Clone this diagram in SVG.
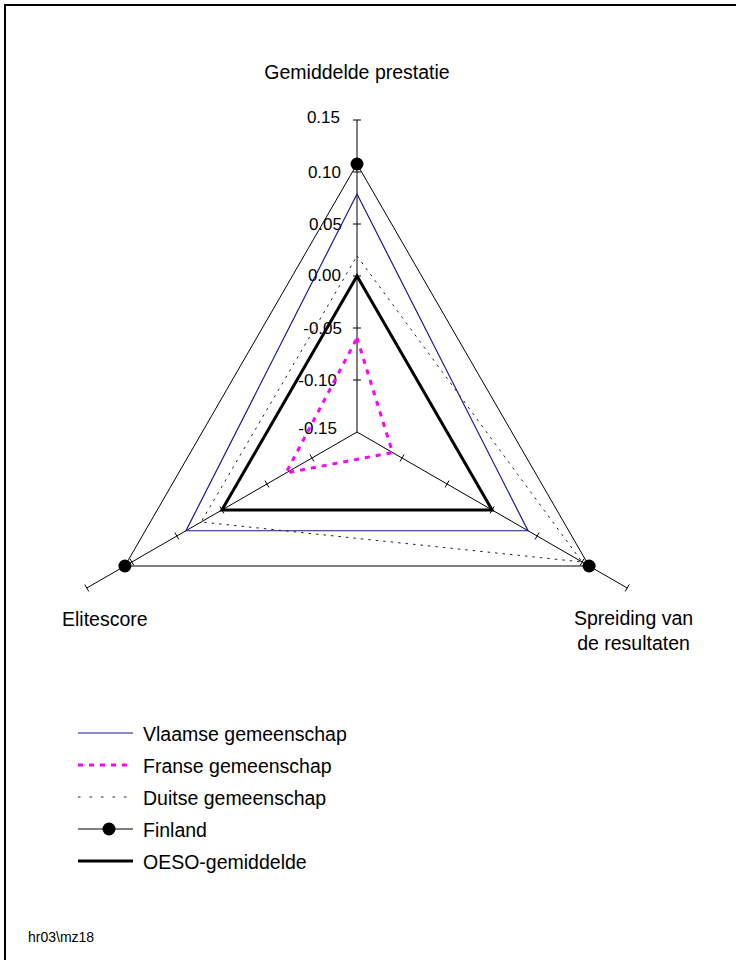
<svg xmlns="http://www.w3.org/2000/svg" width="736" height="960" viewBox="0 0 736 960">
<style>
text{font-family:"Liberation Sans",Arial,sans-serif;fill:#000}
.lbl{font-size:19.5px}
.tk{font-size:17px;text-anchor:end}
.ax{stroke:#000;stroke-width:1;fill:none}
.vl{stroke:#1a1a8c;stroke-width:1.2;fill:none}
.fr{stroke:#ff00ff;stroke-width:3;stroke-dasharray:5 6;fill:none}
.du{stroke:#222;stroke-width:1;stroke-dasharray:2.5 5;fill:none}
.dul{stroke:#222;stroke-width:1;stroke-dasharray:2.5 9;fill:none}
.fi{stroke:#000;stroke-width:1;fill:none}
.oe{stroke:#000;stroke-width:3;fill:none;stroke-linejoin:miter}
</style>
<rect width="736" height="960" fill="#fff"/>
<path d="M5,960 V5 H736" fill="none" stroke="#000" stroke-width="2"/>
<g id="axes">
<path class="ax" d="M357,432 V120 M357,432 L86.81,588 M357,432 L627.19,588"/>
<path class="ax" d="M353,380 H361 M353,328 H361 M353,276 H361 M353,224 H361 M353,172 H361 M353,120 H361"/>
<path class="ax" d="M309.97,454.54 L313.97,461.46 M264.94,480.54 L268.94,487.46 M219.9,506.54 L223.9,513.46 M174.87,532.54 L178.87,539.46 M129.84,558.54 L133.84,565.46 M84.81,584.54 L88.81,591.46"/>
<path class="ax" d="M404.03,454.54 L400.03,461.46 M449.06,480.54 L445.06,487.46 M494.1,506.54 L490.1,513.46 M539.13,532.54 L535.13,539.46 M584.16,558.54 L580.16,565.46 M629.19,584.54 L625.19,591.46"/>
</g>
<g id="tick-labels">
<text class="tk" x="340" y="122.5">0.15</text>
<text class="tk" x="341" y="177.5">0.10</text>
<text class="tk" x="342" y="230">0.05</text>
<text class="tk" x="341" y="281">0.00</text>
<text class="tk" x="342" y="333.5">-0.05</text>
<text class="tk" x="337" y="385.5">-0.10</text>
<text class="tk" x="337" y="433.5">-0.15</text>
</g>
<g id="axis-labels">
<text class="lbl" x="357" y="79" text-anchor="middle">Gemiddelde prestatie</text>
<text class="lbl" x="62" y="626">Elitescore</text>
<text class="lbl" x="633.5" y="624.5" text-anchor="middle">Spreiding van</text>
<text class="lbl" x="633.5" y="650" text-anchor="middle">de resultaten</text>
</g>
<g id="series">
<polygon id="finland" class="fi" points="357,164 589.09,566 124.91,566"/>
<polygon id="vlaamse" class="vl" points="357,194 528.04,530.75 185.96,530.75"/>
<polygon id="duitse" class="du" points="357,256 582.16,562 201.12,522"/>
<polygon id="franse" class="fr" points="357,338 392.51,452.5 285.99,473"/>
<polygon id="oeso" class="oe" points="357,276 492.1,510 221.9,510"/>
<g id="finland-dots" fill="#000">
<circle cx="357" cy="164" r="6.5"/>
<circle cx="589.09" cy="566" r="6.5"/>
<circle cx="124.91" cy="566" r="6.5"/>
</g>
</g>
<g id="legend">
<line class="vl" x1="78" y1="733" x2="133" y2="733"/>
<text class="lbl" x="143" y="741">Vlaamse gemeenschap</text>
<line class="fr" x1="78" y1="765" x2="133" y2="765"/>
<text class="lbl" x="143" y="773">Franse gemeenschap</text>
<line class="dul" x1="78" y1="797" x2="133" y2="797"/>
<text class="lbl" x="143" y="804.5">Duitse gemeenschap</text>
<line class="fi" x1="78" y1="829" x2="133" y2="829"/>
<circle cx="109" cy="829" r="6.5" fill="#000"/>
<text class="lbl" x="143" y="836.5">Finland</text>
<line class="oe" x1="78" y1="861" x2="133" y2="861"/>
<text class="lbl" x="143" y="868.5">OESO-gemiddelde</text>
</g>
<text x="28" y="942" font-size="14">hr03\mz18</text>
</svg>
